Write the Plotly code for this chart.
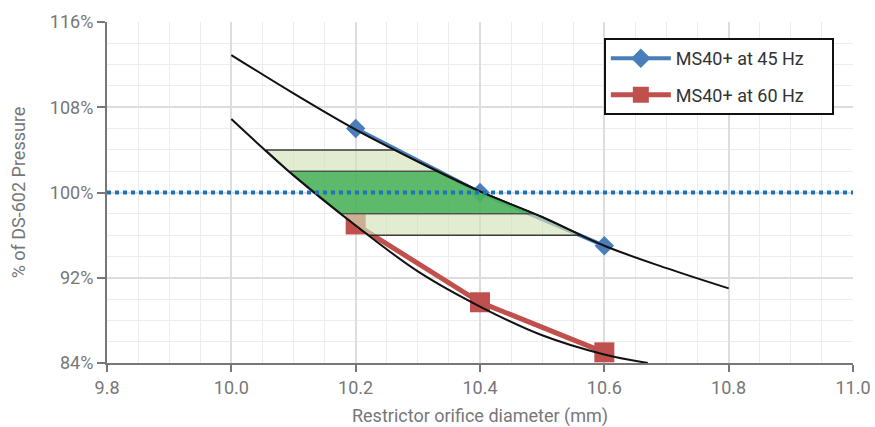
import numpy as np
import plotly.graph_objects as go

# ---- data ----
diam = [10.2, 10.4, 10.6]
p45 = [106.0, 100.0, 95.0]
p60 = [97.0, 89.7, 85.0]

fit_x_45 = [10.0, 10.1, 10.2, 10.3, 10.4, 10.5, 10.6, 10.7, 10.8]
fit_y_45 = [112.9, 109.3, 105.9, 102.9, 100.1, 97.7, 95.0, 92.9, 91.0]
fit_x_60 = [10.0, 10.1, 10.2, 10.3, 10.4, 10.5, 10.6, 10.67]
fit_y_60 = [106.9, 101.6, 96.9, 92.6, 89.3, 86.6, 84.8, 84.0]

target = 100.0
outer_band = [96.0, 104.0]
inner_band = [98.0, 102.0]

x_ticks = [9.8, 10.0, 10.2, 10.4, 10.6, 10.8, 11.0]
y_ticks = [84, 92, 100, 108, 116]

FONT = "Roboto"
GREY = "#777777"
PAD = "\u00a0" * 5


def x_at(xs, ys, y):
    xs = np.asarray(xs)[::-1]
    ys = np.asarray(ys)[::-1]
    return float(np.interp(y, ys, xs))


def band_polygon(lo, hi):
    px, py = [], []
    px.append(x_at(fit_x_60, fit_y_60, hi)); py.append(hi)
    px.append(x_at(fit_x_45, fit_y_45, hi)); py.append(hi)
    for xv, yv in zip(fit_x_45, fit_y_45):
        if lo < yv < hi:
            px.append(xv); py.append(yv)
    px.append(x_at(fit_x_45, fit_y_45, lo)); py.append(lo)
    px.append(x_at(fit_x_60, fit_y_60, lo)); py.append(lo)
    for xv, yv in reversed(list(zip(fit_x_60, fit_y_60))):
        if lo < yv < hi:
            px.append(xv); py.append(yv)
    px.append(px[0]); py.append(py[0])
    return px, py


fig = go.Figure()

fig.add_trace(go.Scatter(
    x=diam, y=p45, mode="lines+markers", name="MS40+ at 45 Hz" + PAD,
    line=dict(color="#4a7ebb", width=4),
    marker=dict(symbol="diamond", size=15, color="#4a7ebb"),
    legendgroup="a",
))
fig.add_trace(go.Scatter(
    x=diam, y=p60, mode="lines+markers", name="MS40+ at 60 Hz" + PAD,
    line=dict(color="#c0504d", width=5),
    marker=dict(symbol="square", size=20, color="#c0504d"),
    legendgroup="b",
))

ox, oy = band_polygon(*outer_band)
fig.add_trace(go.Scatter(
    x=ox, y=oy, mode="lines", fill="toself",
    fillcolor="rgba(211,226,183,0.65)",
    line=dict(color="rgba(40,40,40,0.9)", width=1.5),
    showlegend=False, hoverinfo="skip",
))
ix, iy = band_polygon(*inner_band)
fig.add_trace(go.Scatter(
    x=ix, y=iy, mode="lines", fill="toself",
    fillcolor="rgba(47,169,72,0.75)",
    line=dict(color="rgba(60,60,60,0.8)", width=1.5),
    showlegend=False, hoverinfo="skip",
))

for fx, fy in ((fit_x_45, fit_y_45), (fit_x_60, fit_y_60)):
    fig.add_trace(go.Scatter(
        x=fx, y=fy, mode="lines", line=dict(color="#111111", width=2, shape="spline"),
        showlegend=False, hoverinfo="skip",
    ))

fig.add_hline(y=target, line=dict(color="#1a73bf", width=4, dash="dot"), layer="above")

fig.update_layout(
    width=875, height=427,
    margin=dict(l=107, r=22, t=22, b=64),
    paper_bgcolor="white", plot_bgcolor="white",
    font=dict(family=FONT, size=18, color=GREY),
    showlegend=True,
    legend=dict(
        x=0.666, y=0.953, xanchor="left", yanchor="top",
        bgcolor="white", bordercolor="#111111", borderwidth=2,
        font=dict(family=FONT, size=18, color="#333333"),
        itemwidth=60, tracegroupgap=10,
    ),
)

fig.update_xaxes(
    range=[9.8, 11.0], tickvals=x_ticks, ticktext=[f"{v:.1f}" for v in x_ticks],
    showline=True, linecolor=GREY, linewidth=2,
    ticks="outside", ticklen=7, tickwidth=2, tickcolor=GREY,
    showgrid=True, gridcolor="#dddddd", gridwidth=1.5, zeroline=False,
    minor=dict(dtick=0.05, tick0=9.8, showgrid=True, gridcolor="#ececec", gridwidth=1),
    title=dict(text="Restrictor orifice diameter (mm)", font=dict(size=18, color=GREY), standoff=16),
    tickfont=dict(size=18, color=GREY), automargin=False,
)
fig.update_yaxes(
    range=[84, 116], tickvals=y_ticks, ticktext=[f"{v}%" for v in y_ticks],
    showline=True, linecolor=GREY, linewidth=2,
    ticks="outside", ticklen=8, tickwidth=2, tickcolor=GREY,
    showgrid=True, gridcolor="#dddddd", gridwidth=1.5, zeroline=False,
    minor=dict(dtick=2, tick0=84, showgrid=True, gridcolor="#ececec", gridwidth=1),
    title=dict(text="% of DS-602 Pressure", font=dict(size=18, color=GREY), standoff=20),
    tickfont=dict(size=18, color=GREY), automargin=False,
)

fig.write_html(
    "out.html",
    config={"displayModeBar": False},
    post_script="document.body.style.margin='0';document.body.style.overflow='hidden';",
)
